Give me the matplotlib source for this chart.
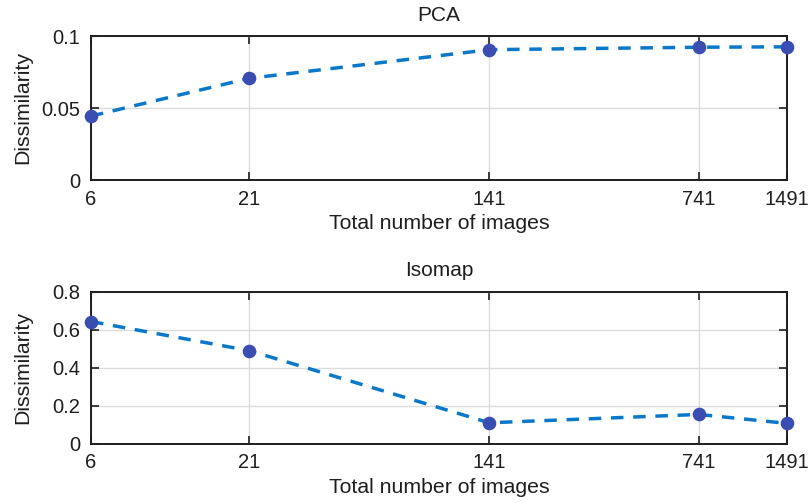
import matplotlib
matplotlib.use("Agg")
import matplotlib.pyplot as plt
from matplotlib.ticker import FixedLocator, FixedFormatter, NullLocator

plt.rcParams['font.family'] = ['Liberation Sans', 'DejaVu Sans']

# Data
n_images = [6, 21, 141, 741, 1491]
tick_labels = ["6", "21", "141", "741", "1491"]
pca_dissim = [0.0444, 0.0706, 0.0905, 0.0922, 0.0925]
isomap_dissim = [0.642, 0.489, 0.109, 0.153, 0.106]
titles = ["PCA", "Isomap"]
y_limits = [(0, 0.1), (0, 0.8)]
y_ticks = [[0, 0.05, 0.1], [0, 0.2, 0.4, 0.6, 0.8]]
y_ticklabels = [["0", "0.05", "0.1"], ["0", "0.2", "0.4", "0.6", "0.8"]]

line_color = "#0A78C8"
marker_color = "#3A4DB0"
text_color = "#1E1E1E"

fig = plt.figure(figsize=(8.08, 5.03), dpi=100)
axes_rects = [
    [91 / 808, 1 - 180 / 503, (787 - 91) / 808, (180 - 36) / 503],
    [91 / 808, 1 - 443.5 / 503, (787 - 91) / 808, (443.5 - 291.5) / 503],
]

for rect, title, vals, ylim, yt, ytl in zip(axes_rects, titles,
                                             [pca_dissim, isomap_dissim],
                                             y_limits, y_ticks, y_ticklabels):
    ax = fig.add_axes(rect)
    ax.set_xscale("log")
    ax.plot(n_images, vals, linestyle=(0, (3.6, 2.8)), color=line_color,
            linewidth=2.5, zorder=3, clip_on=False)
    ax.plot(n_images, vals, linestyle="none", marker="o", markersize=8.8,
            color=marker_color, zorder=4, clip_on=False)
    ax.set_xlim(n_images[0], n_images[-1])
    ax.set_ylim(*ylim)
    ax.xaxis.set_major_locator(FixedLocator(n_images))
    ax.xaxis.set_major_formatter(FixedFormatter(tick_labels))
    ax.xaxis.set_minor_locator(NullLocator())
    ax.set_yticks(yt)
    ax.set_yticklabels(ytl)
    ax.grid(True, color="#DCDCDC", linewidth=1.0, zorder=0)
    ax.set_axisbelow(True)
    ax.tick_params(direction="in", length=6, width=1.2, top=True, right=True,
                   labelsize=14.5, colors=text_color)
    ax.tick_params(axis="x", pad=7)
    ax.tick_params(axis="y", pad=8)
    for sp in ax.spines.values():
        sp.set_linewidth(1.4)
        sp.set_color(text_color)
    ax.set_title(title, fontsize=15, pad=11, color=text_color)
    ax.set_xlabel("Total number of images", fontsize=15.3, labelpad=4, color=text_color)
    ax.set_ylabel("Dissimilarity", fontsize=15.3, color=text_color)
    ax.yaxis.set_label_coords(-0.085, 0.5)

fig.savefig("out.png", dpi=100)
